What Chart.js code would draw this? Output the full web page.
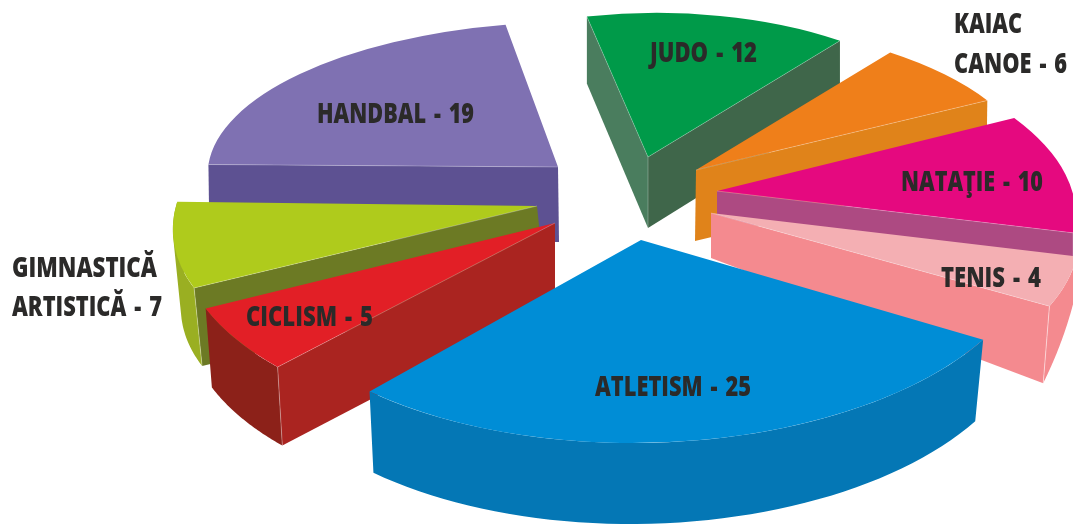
<!DOCTYPE html>
<html><head><meta charset="utf-8">
<style>html,body{margin:0;padding:0;background:#fff;overflow:hidden}canvas{display:block}</style>
<script src="https://cdn.jsdelivr.net/npm/chart.js@4"></script>
</head><body><canvas id="c" width="1073" height="525"></canvas>
<script>
const categories = ['JUDO','KAIAC\nCANOE','NATAŢIE','TENIS','ATLETISM','CICLISM','GIMNASTICĂ\nARTISTICĂ','HANDBAL'];
const values = [12,6,10,4,25,5,7,19];
const topColors = ['#009A49','#EF7F1A','#E5097F','#F4AFB3','#008DD6','#E21F26','#AFCB1C','#7F71B2'];
const startFace = ['#4A7D5E',null,null,null,null,'#AA2420','#6C7A24','#5D5192'];
const endFace = ['#3F664A','#E0831A','#AD4A82','#F48A8F',null,null,null,null];
const outerFace = [null,null,null,'#F48A8F','#0477B5','#8C2119','#9AAF22',null];
const rotationDeg = -10.9;
// Per-slice 3D view: [ux,uy,vx,vy,ex,ey] unit-circle axes and hub, for top and bottom faces
const viewTop = [
 [313,-5,2,144,648,157],[337,-2,18,148,696,170],[356,3,42,165,717,191],[366,-1,43,188,711,213],
 [398,-2,-5,203,641,240],[376,8,-33,202,555,223],[361,0,-48,179,537,206],[350,-1,-14,145,558,167]];
const viewBottom = [
 [313,-5,2,148,648,228],[337,-2,18,148,695,241],[356,3,42,165,717,221],[375,-68,15,368,711,258],
 [390,-2,-7,202,641,322],[369,8,-33,200,555,303],[361,0,-48,179,545,284],[350,-1,-14,145,559,242]];
const drawOrder = [0,1,2,3,7,6,5,4];
// Label anchor [left, baseline, line gap]
const labelBox = [[650,62,0],[954,33,40],[901,191,0],[941,287,0],[595,396,0],[246,326,0],[12,277,39],[317,123,0]];
const labelLineWidths = [[107],[68,113],[142],[100],[156],[127],[145,150],[157]];

function pt(m,a){const c=Math.cos(a),s=Math.sin(a);return [m[4]+m[0]*c+m[2]*s,m[5]+m[1]*c+m[3]*s];}
function hub(m){return [m[4],m[5]];}
function addPoly(ctx,pts){
  let area=0;
  pts.forEach((p,i)=>{const q=pts[(i+1)%pts.length];area+=p[0]*q[1]-q[0]*p[1];});
  const list=area<0?pts.slice().reverse():pts;
  list.forEach((p,i)=>i?ctx.lineTo(p[0],p[1]):ctx.moveTo(p[0],p[1]));ctx.closePath();
}
function poly(ctx,pts,color){
  ctx.beginPath();addPoly(ctx,pts);
  ctx.fillStyle=color;ctx.fill();
}
function hair(ctx,p,q,alpha){
  ctx.beginPath();ctx.moveTo(p[0],p[1]);ctx.lineTo(q[0],q[1]);
  ctx.strokeStyle='rgba(255,255,255,'+alpha+')';ctx.lineWidth=.7;ctx.stroke();
}
const pie3d={id:'pie3d',
 beforeDatasetsDraw(chart){
  const ctx=chart.ctx,arcs=chart.getDatasetMeta(0).data;
  drawOrder.forEach(i=>{
   const arc=arcs[i],T=viewTop[i],B=viewBottom[i];
   const p=arc.getProps(['x','y','startAngle','endAngle','outerRadius'],true);
   const a0=p.startAngle,a1=p.endAngle;
   if(startFace[i]) poly(ctx,[hub(T),pt(T,a0),pt(B,a0),hub(B)],startFace[i]);
   if(endFace[i]) poly(ctx,[hub(T),pt(T,a1),pt(B,a1),hub(B)],endFace[i]);
   if(outerFace[i]){
     ctx.beginPath();
     for(let k=0;k<48;k++){
       const s=a0+(a1-a0)*k/48,e=a0+(a1-a0)*(k+1)/48;
       addPoly(ctx,[pt(T,s),pt(T,e),pt(B,e),pt(B,s)]);
     }
     ctx.fillStyle=outerFace[i];ctx.fill();
   }
   if(startFace[i]&&outerFace[i]) hair(ctx,pt(T,a0),pt(B,a0),.45);
   if(endFace[i]&&outerFace[i]) hair(ctx,pt(T,a1),pt(B,a1),.7);
   if(startFace[i]&&i===0) hair(ctx,hub(T),hub(B),.4);
   const R=p.outerRadius,a=T[0]/R,b=T[1]/R,c=T[2]/R,d=T[3]/R;
   ctx.save();
   ctx.setTransform(a,b,c,d,T[4]-a*p.x-c*p.y,T[5]-b*p.x-d*p.y);
   arc.draw(ctx);
   ctx.restore();
   if(startFace[i]) hair(ctx,hub(T),pt(T,a0),.35);
   if(endFace[i]) hair(ctx,hub(T),pt(T,a1),.35);
  });
  return false;
 },
 afterDraw(chart){
  const ctx=chart.ctx;
  ctx.save();ctx.fillStyle='#2B2A29';ctx.textAlign='left';ctx.textBaseline='alphabetic';
  ctx.font="800 29px 'Open Sans'";ctx.wordSpacing='3px';
  categories.forEach((cat,i)=>{
   const lines=cat.split('\n');lines[lines.length-1]+=' - '+values[i];
   const bx=labelBox[i];
   lines.forEach((t,j)=>ctx.fillText(t,bx[0],bx[1]+j*bx[2],labelLineWidths[i][j]));
  });
  ctx.restore();
 }};
new Chart(document.getElementById('c'),{type:'pie',
 data:{labels:categories,datasets:[{data:values,backgroundColor:topColors,borderWidth:0}]},
 options:{responsive:false,animation:false,rotation:rotationDeg,
  plugins:{legend:{display:false},tooltip:{enabled:false}},layout:{padding:0}},
 plugins:[pie3d]});
</script></body></html>
